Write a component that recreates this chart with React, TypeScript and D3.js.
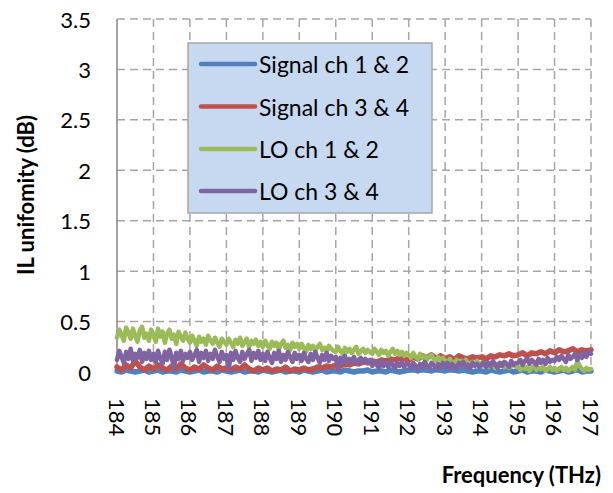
import React from "react";
import * as d3 from "d3";

// Frequency sample grids (THz): 184 to 197 every 0.125 and every 0.0625
const freqsCoarse: number[] = d3.range(0, 105).map((i) => 184 + i * 0.125);
const freqsFine: number[] = d3.range(0, 209).map((i) => 184 + i * 0.0625);

const signal12: number[] = [
  0.01,0.00,0.02,0.01,0.00,0.01,0.02,0.00,
  0.01,0.02,0.00,0.01,0.01,0.00,0.02,0.01,
  0.00,0.01,0.02,0.00,0.01,0.01,0.00,0.02,
  0.01,0.00,0.01,0.02,0.00,0.01,0.01,0.00,
  0.02,0.01,0.00,0.01,0.02,0.00,0.01,0.01,
  0.00,0.02,0.01,0.00,0.01,0.02,0.00,0.01,
  0.01,0.00,0.02,0.01,0.00,0.01,0.01,0.02,
  0.00,0.01,0.01,0.00,0.02,0.01,0.00,0.01,
  0.02,0.03,0.01,0.03,0.02,0.01,0.03,0.02,
  0.01,0.03,0.02,0.01,0.02,0.01,0.00,0.01,
  0.01,0.00,0.02,0.01,0.00,0.01,0.02,0.00,
  0.01,0.02,0.00,0.01,0.01,0.00,0.02,0.01,
  0.00,0.01,0.02,0.00,0.01,0.03,0.00,0.01,
  0.01,
];

const signal34: number[] = [
  0.05,0.02,0.07,0.04,0.11,0.05,0.02,0.06,
  0.03,0.07,0.04,0.02,0.06,0.03,0.08,0.04,
  0.02,0.05,0.03,0.07,0.04,0.02,0.06,0.03,
  0.04,0.02,0.05,0.03,0.07,0.03,0.01,0.04,
  0.02,0.04,0.01,0.03,0.02,0.05,0.01,0.03,
  0.02,0.04,0.02,0.03,0.05,0.04,0.06,0.05,
  0.07,0.06,0.08,0.07,0.09,0.08,0.10,0.09,
  0.11,0.10,0.12,0.11,0.13,0.12,0.14,0.13,
  0.12,0.15,0.13,0.16,0.14,0.17,0.13,0.16,
  0.13,0.15,0.12,0.16,0.14,0.13,0.15,0.14,
  0.15,0.13,0.16,0.15,0.17,0.16,0.18,0.16,
  0.17,0.19,0.16,0.19,0.18,0.20,0.18,0.21,
  0.19,0.22,0.20,0.21,0.23,0.20,0.22,0.21,
  0.22,
];

const lo12: number[] = [
  0.34,0.42,0.37,0.31,0.44,0.39,0.33,0.43,0.36,0.30,0.41,0.45,0.34,0.38,0.31,0.42,
  0.37,0.30,0.43,0.35,0.40,0.29,0.38,0.42,0.33,0.37,0.28,0.40,0.35,0.31,0.39,0.33,
  0.29,0.36,0.31,0.26,0.35,0.30,0.33,0.27,0.36,0.31,0.28,0.34,0.29,0.25,0.33,0.30,
  0.27,0.33,0.29,0.25,0.32,0.28,0.34,0.26,0.30,0.33,0.25,0.31,0.28,0.32,0.26,0.30,
  0.25,0.31,0.27,0.23,0.30,0.26,0.29,0.22,0.28,0.31,0.24,0.27,0.22,0.29,0.25,0.28,
  0.23,0.28,0.24,0.20,0.27,0.23,0.26,0.21,0.25,0.28,0.22,0.24,0.20,0.26,0.23,0.21,
  0.20,0.25,0.21,0.18,0.24,0.20,0.23,0.19,0.22,0.25,0.18,0.21,0.23,0.19,0.22,0.20,
  0.18,0.23,0.20,0.17,0.22,0.19,0.21,0.16,0.20,0.23,0.18,0.21,0.17,0.20,0.16,0.19,
  0.17,0.14,0.19,0.15,0.13,0.18,0.14,0.16,0.12,0.15,0.17,0.13,0.11,0.15,0.12,0.14,
  0.11,0.08,0.13,0.10,0.07,0.12,0.09,0.11,0.08,0.12,0.09,0.07,0.10,0.08,0.11,0.07,
  0.09,0.06,0.08,0.05,0.09,0.07,0.04,0.08,0.06,0.09,0.05,0.07,0.04,0.06,0.08,0.05,
  0.05,0.02,0.06,0.03,0.05,0.01,0.04,0.06,0.02,0.04,0.03,0.05,0.01,0.03,0.05,0.02,
  0.04,0.01,0.03,0.05,0.02,0.04,0.01,0.03,0.05,0.02,0.11,0.06,0.03,0.01,0.04,0.02,
  0.03,
];

const lo34: number[] = [
  0.12,0.21,0.15,0.09,0.20,0.13,0.23,0.11,0.18,0.14,0.22,0.10,0.19,0.13,0.21,0.12,
  0.18,0.10,0.21,0.14,0.08,0.20,0.12,0.22,0.15,0.04,0.19,0.13,0.21,0.11,0.18,0.14,
  0.20,0.12,0.17,0.22,0.10,0.19,0.14,0.21,0.11,0.18,0.13,0.22,0.15,0.10,0.20,0.13,
  0.17,0.02,0.19,0.12,0.21,0.14,0.10,0.20,0.13,0.18,0.22,0.11,0.19,0.14,0.21,0.12,
  0.18,0.11,0.20,0.14,0.09,0.19,0.13,0.21,0.10,0.17,0.12,0.20,0.15,0.10,0.19,0.13,
  0.17,0.11,0.19,0.13,0.10,0.18,0.12,0.20,0.14,0.09,0.17,0.12,0.19,0.11,0.16,0.13,
  0.15,0.02,0.14,0.10,0.16,0.09,0.13,0.11,0.15,0.08,0.12,0.14,0.09,0.13,0.10,0.12,
  0.06,0.10,0.07,0.04,0.11,0.06,0.09,0.05,0.10,0.07,0.04,0.09,0.06,0.10,0.05,0.08,
  0.08,0.04,0.09,0.06,0.03,0.08,0.05,0.10,0.06,0.04,0.09,0.07,0.03,0.08,0.05,0.09,
  0.05,0.09,0.04,0.08,0.06,0.03,0.09,0.06,0.10,0.05,0.07,0.04,0.09,0.06,0.08,0.05,
  0.07,0.10,0.05,0.09,0.06,0.11,0.07,0.04,0.09,0.06,0.10,0.08,0.05,0.11,0.07,0.09,
  0.09,0.12,0.07,0.11,0.13,0.08,0.12,0.10,0.07,0.13,0.09,0.12,0.08,0.14,0.10,0.12,
  0.11,0.15,0.12,0.16,0.13,0.10,0.17,0.13,0.15,0.18,0.12,0.17,0.14,0.19,0.15,0.20,
  0.18,
];

const seriesNames: string[] = ["Signal ch 1 & 2", "Signal ch 3 & 4", "LO ch 1 & 2", "LO ch 3 & 4"];
const seriesColors: string[] = ["#4F81BD", "#C0504D", "#9BBB59", "#8064A2"];
const seriesValues: number[][] = [signal12, signal34, lo12, lo34];
const seriesFreqs: number[][] = [freqsCoarse, freqsCoarse, freqsFine, freqsFine];

const xTicks: number[] = [184, 185, 186, 187, 188, 189, 190, 191, 192, 193, 194, 195, 196, 197];
const yTicks: number[] = [0, 0.5, 1, 1.5, 2, 2.5, 3, 3.5];

const FONT = "Lato, 'Open Sans', sans-serif";

export default function App() {
  const W = 613, H = 493;
  const left = 117, right = 591, top = 19, bottom = 372;
  const x = d3.scaleLinear().domain([184, 197]).range([left, right]);
  const y = d3.scaleLinear().domain([0, 3.5]).range([bottom, top]);

  const grid = "#A6A6A6";
  const legX = 188, legY = 43, legW = 244, legH = 170;
  const legRows = [64, 106.5, 149, 191];

  return (
    <svg
      width={W}
      height={H}
      style={{ position: "absolute", left: 0, top: 0, background: "#fff" }}
      fontFamily={FONT}
    >
      {/* gridlines */}
      {yTicks.filter((t) => t > 0).map((t) => (
        <line key={"gy" + t} x1={left} x2={right} y1={y(t)} y2={y(t)} stroke={grid} strokeWidth={1.5} strokeDasharray="8 5" />
      ))}
      {xTicks.filter((t) => t > 184).map((t) => (
        <line key={"gx" + t} x1={x(t)} x2={x(t)} y1={top} y2={bottom} stroke={grid} strokeWidth={1.5} strokeDasharray="8 5" />
      ))}
      {/* axes */}
      <line x1={left} x2={left} y1={top} y2={bottom} stroke="#868686" strokeWidth={1.5} />
      <line x1={left} x2={right} y1={bottom} y2={bottom} stroke="#868686" strokeWidth={1.5} />

      {/* series */}
      {seriesValues.map((vals, si) => {
        const fr = seriesFreqs[si];
        const line = d3
          .line<number>()
          .x((_, i) => x(fr[i]))
          .y((d) => y(d));
        return (
          <path
            key={"s" + si}
            d={line(vals) || ""}
            fill="none"
            stroke={seriesColors[si]}
            strokeWidth={si >= 2 ? 4.5 : 5.5}
            strokeLinejoin="round"
            strokeLinecap="round"
          />
        );
      })}

      {/* y tick labels */}
      {yTicks.map((t) => (
        <text key={"ty" + t} x={91} y={y(t)} textAnchor="end" dominantBaseline="central" fontSize={22} fill="#000">
          {String(t)}
        </text>
      ))}
      {/* x tick labels rotated */}
      {xTicks.map((t) => (
        <text
          key={"tx" + t}
          transform={`translate(${x(t)},398) rotate(90)`}
          textAnchor="start"
          dominantBaseline="central"
          fontSize={22}
          fill="#000"
        >
          {String(t)}
        </text>
      ))}

      {/* axis titles */}
      <text
        transform={`translate(25,195) rotate(-90)`}
        textAnchor="middle"
        dominantBaseline="central"
        fontSize={22}
        fontWeight="bold"
        fill="#000"
      >
        IL unifomity (dB)
      </text>
      <text x={601} y={483} textAnchor="end" fontSize={22} fontWeight="bold" fill="#000">
        Frequency (THz)
      </text>

      {/* legend */}
      <rect x={legX} y={legY} width={legW} height={legH} fill="#C6D9F1" stroke="#A6A6A6" strokeWidth={1.5} />
      {seriesNames.map((n, i) => (
        <g key={"l" + i}>
          <line x1={201} x2={255} y1={legRows[i]} y2={legRows[i]} stroke={seriesColors[i]} strokeWidth={4.5} strokeLinecap="round" />
          <text x={259} y={legRows[i]} dominantBaseline="central" fontSize={23} fill="#000">
            {n}
          </text>
        </g>
      ))}
    </svg>
  );
}
